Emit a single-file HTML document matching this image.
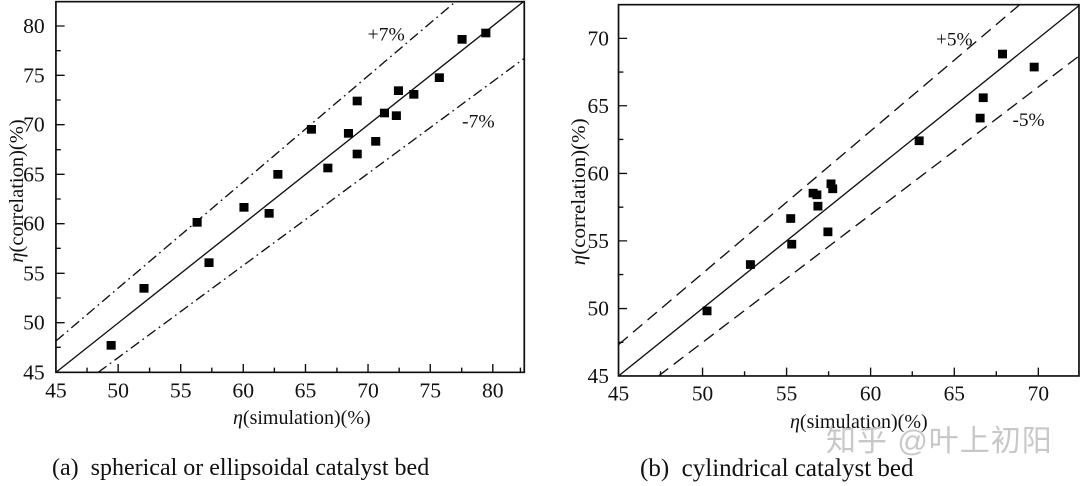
<!DOCTYPE html>
<html><head><meta charset="utf-8"><style>
html,body{margin:0;padding:0;background:#fff;width:1080px;height:486px;overflow:hidden;position:relative;font-family:"Liberation Serif",serif;color:#111}
.t{position:absolute;white-space:nowrap}
svg{position:absolute;top:0}
</style></head><body>
<svg style="left:0" width="540" height="410" viewBox="0 0 1545 1230" preserveAspectRatio="none" font-family="Liberation Serif, serif" font-size="62" fill="#111">
<g stroke="#111" stroke-width="5" fill="none">
<rect x="160" y="5" width="1340" height="1112"/>
<path d="M338 1117v-25M517 1117v-25M696 1117v-25M874 1117v-25M1053 1117v-25M1231 1117v-25M1410 1117v-25
M249 1117v-14M428 1117v-14M606 1117v-14M785 1117v-14M964 1117v-14M1142 1117v-14M1321 1117v-14M1489 1117v-14
M160 968h25M160 820h25M160 671h25M160 523h25M160 374h25M160 226h25M160 78h25
M160 1042h14M160 894h14M160 745h14M160 597h14M160 449h14M160 300h14M160 152h14" stroke-width="4"/>
<path d="M160 1117L1500 3" stroke-width="4"/>
<path d="M160 1023L1303 5" stroke-width="4" stroke-dasharray="30 12 5 12"/>
<path d="M281 1117L1500 175" stroke-width="4" stroke-dasharray="30 12 5 12"/>
</g>
<g text-anchor="middle">
<text x="160" y="1192">45</text><text x="338" y="1192">50</text><text x="517" y="1192">55</text><text x="696" y="1192">60</text><text x="874" y="1192">65</text><text x="1053" y="1192">70</text><text x="1231" y="1192">75</text><text x="1410" y="1192">80</text>
</g>
<g text-anchor="end">
<text x="128" y="1138">45</text><text x="128" y="989">50</text><text x="128" y="841">55</text><text x="128" y="692">60</text><text x="128" y="544">65</text><text x="128" y="395">70</text><text x="128" y="247">75</text><text x="128" y="99">80</text>
</g>
<text x="1052" y="122" font-size="56">+7%</text><text x="1322" y="382" font-size="56">-7%</text>
<text transform="translate(66,573) rotate(-90)" text-anchor="middle" font-size="58" textLength="430" lengthAdjust="spacingAndGlyphs"><tspan font-style="italic">η</tspan>(correlation)(%)</text>
<g fill="#000" transform="translate(-2,-2)">
<rect x="307" y="1025" width="26" height="26"/><rect x="401" y="854" width="26" height="26"/><rect x="553" y="656" width="26" height="26"/><rect x="587" y="777" width="26" height="26"/><rect x="687" y="611" width="26" height="26"/><rect x="759" y="629" width="26" height="26"/><rect x="784" y="512" width="26" height="26"/><rect x="880" y="377" width="26" height="26"/><rect x="927" y="493" width="26" height="26"/><rect x="986" y="389" width="26" height="26"/><rect x="1011" y="292" width="26" height="26"/><rect x="1011" y="451" width="26" height="26"/><rect x="1064" y="413" width="26" height="26"/><rect x="1089" y="328" width="26" height="26"/><rect x="1123" y="336" width="26" height="26"/><rect x="1129" y="261" width="26" height="26"/><rect x="1173" y="272" width="26" height="26"/><rect x="1246" y="222" width="26" height="26"/><rect x="1311" y="107" width="26" height="26"/><rect x="1379" y="88" width="26" height="26"/>
</g>
</svg>
<svg style="left:540px" width="540" height="416" viewBox="0 0 1568 1247" preserveAspectRatio="none" font-family="Liberation Serif, serif" font-size="62" fill="#111">
<g stroke="#111" stroke-width="5" fill="none">
<rect x="228" y="14" width="1337" height="1113"/>
<path d="M472 1127v-25M716 1127v-25M960 1127v-25M1203 1127v-25M1447 1127v-25
M350 1127v-14M594 1127v-14M838 1127v-14M1081 1127v-14M1325 1127v-14
M228 925h25M228 722h25M228 520h25M228 317h25M228 115h25
M228 1026h14M228 823h14M228 621h14M228 418h14M228 216h14" stroke-width="4"/>
<path d="M228 1127L1565 17" stroke-width="4"/>
<path d="M228 1033L1393 14" stroke-width="4" stroke-dasharray="36 20"/>
<path d="M344 1127L1565 168" stroke-width="4" stroke-dasharray="36 20"/>
</g>
<g text-anchor="middle">
<text x="228" y="1200">45</text><text x="472" y="1200">50</text><text x="716" y="1200">55</text><text x="960" y="1200">60</text><text x="1203" y="1200">65</text><text x="1447" y="1200">70</text>
</g>
<g text-anchor="end">
<text x="200" y="1148">45</text><text x="200" y="946">50</text><text x="200" y="743">55</text><text x="200" y="541">60</text><text x="200" y="338">65</text><text x="200" y="136">70</text>
</g>
<text x="1150" y="137" font-size="56">+5%</text><text x="1372" y="377" font-size="56">-5%</text>
<text transform="translate(130,575) rotate(-90)" text-anchor="middle" font-size="58" textLength="440" lengthAdjust="spacingAndGlyphs"><tspan font-style="italic">η</tspan>(correlation)(%)</text>
<g fill="#000" transform="translate(-2,-2)">
<rect x="474" y="921" width="26" height="26"/><rect x="600" y="782" width="26" height="26"/><rect x="717" y="644" width="26" height="26"/><rect x="720" y="721" width="26" height="26"/><rect x="782" y="568" width="26" height="26"/><rect x="793" y="573" width="26" height="26"/><rect x="796" y="607" width="26" height="26"/><rect x="834" y="540" width="26" height="26"/><rect x="839" y="555" width="26" height="26"/><rect x="825" y="684" width="26" height="26"/><rect x="1090" y="411" width="26" height="26"/><rect x="1267" y="343" width="26" height="26"/><rect x="1276" y="282" width="26" height="26"/><rect x="1332" y="151" width="26" height="26"/><rect x="1424" y="190" width="26" height="26"/>
</g>
</svg>
<div class="t" style="left:233px;top:407px;font-size:20px"><i>η</i>(simulation)(%)</div>
<div class="t" style="left:790px;top:411px;font-size:20px"><i>η</i>(simulation)(%)</div>
<div class="t" style="left:826px;top:416px;font-size:30px;color:#c8c8c8;font-family:'Liberation Sans','Noto Sans CJK SC',sans-serif;letter-spacing:1px">知乎 @叶上初阳</div>
<div class="t" style="left:52px;top:455px;font-size:24px">(a)&nbsp; spherical or ellipsoidal catalyst bed</div>
<div class="t" style="left:640px;top:455px;font-size:25px">(b)&nbsp; cylindrical catalyst bed</div>
</body></html>
